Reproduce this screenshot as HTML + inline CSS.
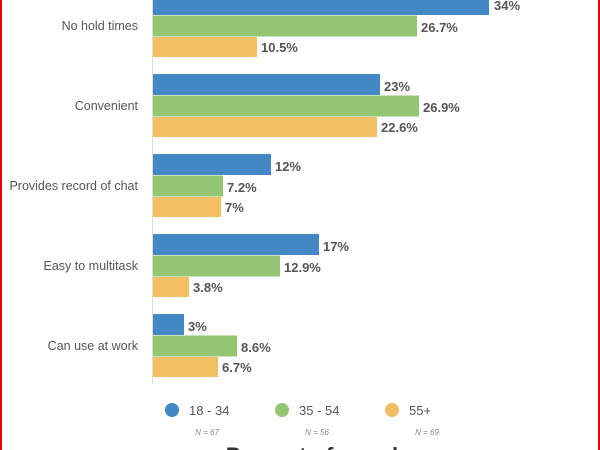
<!DOCTYPE html>
<html><head><meta charset="utf-8"><style>
body{margin:0;width:600px;height:450px;overflow:hidden;background:#fff;}
svg{display:block}
.c{font-family:"Liberation Sans",sans-serif;font-size:12.5px;fill:#555;}
</style></head><body>
<svg width="600" height="450" xmlns="http://www.w3.org/2000/svg">
<rect x="0" y="0" width="2" height="450" fill="#e00"/>
<rect x="598" y="0" width="2" height="450" fill="#e00"/>
<line x1="152.5" y1="0" x2="152.5" y2="384" stroke="#ddd" stroke-width="1"/>
<g font-family="Liberation Sans, sans-serif">
<text class="c" x="138" y="30" text-anchor="end">No hold times</text>
<text class="c" x="138" y="110" text-anchor="end">Convenient</text>
<text class="c" x="138" y="190" text-anchor="end">Provides record of chat</text>
<text class="c" x="138" y="270" text-anchor="end">Easy to multitask</text>
<text class="c" x="138" y="350" text-anchor="end">Can use at work</text>
<circle cx="172" cy="410" r="7" fill="#4387c4"/>
<text x="189" y="415" font-size="13" fill="#555">18 - 34</text>
<circle cx="282" cy="410" r="7" fill="#93c572"/>
<text x="299" y="415" font-size="13" fill="#555">35 - 54</text>
<circle cx="392" cy="410" r="7" fill="#f2be62"/>
<text x="409" y="415" font-size="13" fill="#555">55+</text>
<text x="207" y="435" font-size="8" font-style="italic" fill="#888" text-anchor="middle">N = 67</text>
<text x="317" y="435" font-size="8" font-style="italic" fill="#888" text-anchor="middle">N = 56</text>
<text x="427" y="435" font-size="8" font-style="italic" fill="#888" text-anchor="middle">N = 69</text>
<text x="318" y="463" font-size="22" font-weight="bold" fill="#333" text-anchor="middle">Percent of people</text>
</g>
<g>
<rect x="153" y="-6" width="336" height="21" fill="#4387c4"/>
<rect x="153" y="15.5" width="264" height="21" fill="#93c572"/>
<rect x="153" y="37" width="104" height="20" fill="#f2be62"/>
<rect x="153" y="74" width="227" height="21" fill="#4387c4"/>
<rect x="153" y="95.5" width="266" height="21" fill="#93c572"/>
<rect x="153" y="117" width="224" height="20" fill="#f2be62"/>
<rect x="153" y="154" width="118" height="21" fill="#4387c4"/>
<rect x="153" y="175.5" width="70" height="21" fill="#93c572"/>
<rect x="153" y="197" width="68" height="20" fill="#f2be62"/>
<rect x="153" y="234" width="166" height="21" fill="#4387c4"/>
<rect x="153" y="255.5" width="127" height="21" fill="#93c572"/>
<rect x="153" y="277" width="36" height="20" fill="#f2be62"/>
<rect x="153" y="314" width="31" height="21" fill="#4387c4"/>
<rect x="153" y="335.5" width="84" height="21" fill="#93c572"/>
<rect x="153" y="357" width="65" height="20" fill="#f2be62"/>
</g>
<g font-family="Liberation Sans Narrow, Liberation Sans, sans-serif" font-size="13" font-weight="bold" fill="#555">
<text x="494" y="10">34%</text>
<text x="421" y="32">26.7%</text>
<text x="261" y="52">10.5%</text>
<text x="384" y="91">23%</text>
<text x="423" y="112">26.9%</text>
<text x="381" y="132">22.6%</text>
<text x="275" y="171">12%</text>
<text x="227" y="192">7.2%</text>
<text x="225" y="212">7%</text>
<text x="323" y="251">17%</text>
<text x="284" y="272">12.9%</text>
<text x="193" y="292">3.8%</text>
<text x="188" y="331">3%</text>
<text x="241" y="352">8.6%</text>
<text x="222" y="372">6.7%</text>
</g>
</svg>
</body></html>
